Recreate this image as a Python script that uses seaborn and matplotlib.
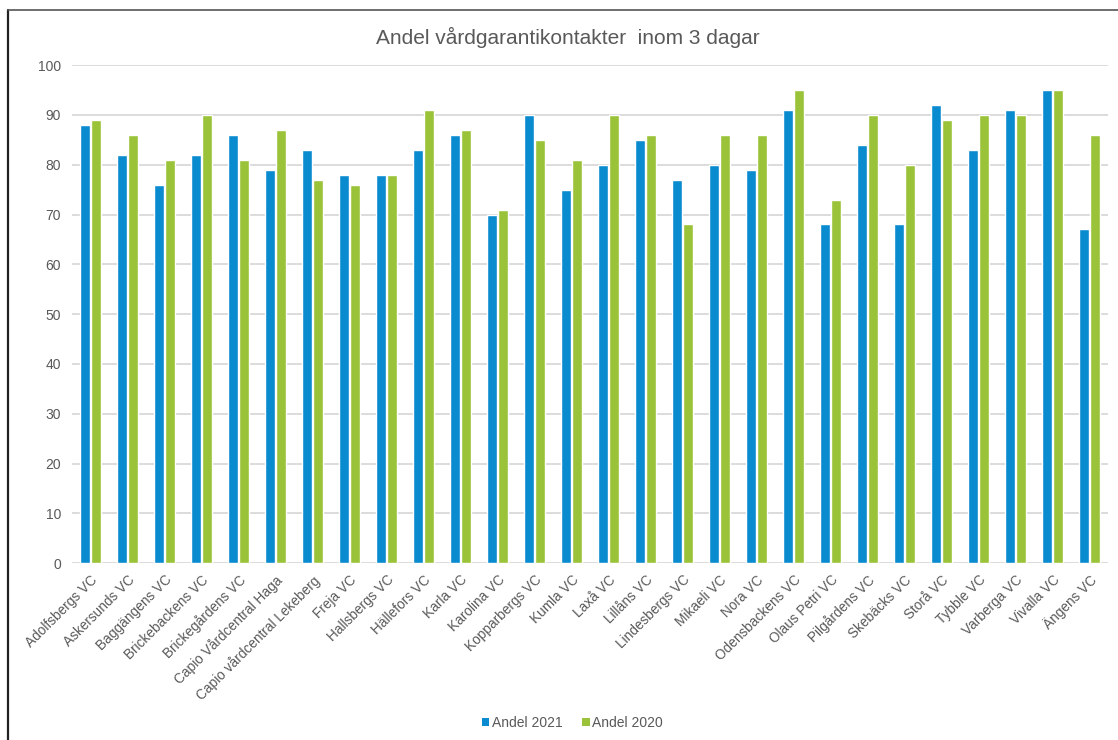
import matplotlib
matplotlib.use("Agg")
import matplotlib.pyplot as plt
from matplotlib.lines import Line2D
from matplotlib.patches import Patch
import seaborn as sns
import pandas as pd

categories = [
    "Adolfsbergs VC", "Askersunds VC", "Baggängens VC", "Brickebackens VC",
    "Brickegårdens VC", "Capio Vårdcentral Haga", "Capio vårdcentral Lekeberg",
    "Freja VC", "Hallsbergs VC", "Hällefors VC", "Karla VC", "Karolina VC",
    "Kopparbergs VC", "Kumla VC", "Laxå VC", "Lillåns VC", "Lindesbergs VC",
    "Mikaeli VC", "Nora VC", "Odensbackens VC", "Olaus Petri VC",
    "Pilgårdens VC", "Skebäcks VC", "Storå VC", "Tybble VC", "Varberga VC",
    "Vivalla VC", "Ängens VC",
]
andel_2021 = [88, 82, 76, 82, 86, 79, 83, 78, 78, 83, 86, 70, 90, 75, 80, 85,
              77, 80, 79, 91, 68, 84, 68, 92, 83, 91, 95, 67]
andel_2020 = [89, 86, 81, 90, 81, 87, 77, 76, 78, 91, 87, 71, 85, 81, 90, 86,
              68, 86, 86, 95, 73, 90, 80, 89, 90, 90, 95, 86]
series_names = ["Andel 2021", "Andel 2020"]
title = "Andel vårdgarantikontakter  inom 3 dagar"

df = pd.DataFrame({
    "Vårdcentral": categories * 2,
    "Andel": andel_2021 + andel_2020,
    "Serie": [series_names[0]] * len(categories) + [series_names[1]] * len(categories),
})

sns.set_theme(style="white")
plt.rcParams["font.family"] = ["Liberation Sans", "DejaVu Sans"]

text_grey = "#595959"
colors = {series_names[0]: "#0a8bd0", series_names[1]: "#9bc33a"}

fig = plt.figure(figsize=(11.18, 7.40), dpi=100)
ax = fig.add_axes([0.0644, 0.239, 0.9266, 0.673])

sns.barplot(data=df, x="Vårdcentral", y="Andel", hue="Serie",
            palette=colors, width=0.58, gap=0.12, ax=ax,
            legend=False, saturation=1)

ax.set_ylim(0, 100)
ax.set_yticks(range(0, 101, 10))
ax.set_xlim(-0.5, len(categories) - 0.5)
ax.yaxis.grid(True, color="#dcdcdc", linewidth=1.4)
ax.set_axisbelow(True)
for side in ["left", "right", "top", "bottom"]:
    ax.spines[side].set_visible(False)
ax.axhline(0, color="#dcdcdc", linewidth=1.4, zorder=0)

ax.set_xlabel("")
ax.set_ylabel("")
ax.tick_params(axis="y", length=0, pad=8, labelsize=10, labelcolor=text_grey)
ax.tick_params(axis="x", length=0, pad=7, labelsize=9.8, labelcolor=text_grey)
for lbl in ax.get_xticklabels():
    lbl.set_rotation(45)
    lbl.set_ha("right")
    lbl.set_rotation_mode("anchor")

fig.text(0.508, 0.950, title, ha="center", va="center",
         fontsize=15, color=text_grey)

handles = [Patch(facecolor=colors[s], edgecolor="none") for s in series_names]
fig.legend(handles, series_names, loc="center", bbox_to_anchor=(0.512, 0.023),
           ncol=2, frameon=False, fontsize=10, labelcolor=text_grey,
           handlelength=0.55, handleheight=0.55, handletextpad=0.2,
           columnspacing=1.4)

# frame lines along the top and left edge
fig.add_artist(Line2D([8 / 1118, 8 / 1118], [0, 1 - 10 / 740],
                      transform=fig.transFigure, color="#222222", linewidth=1.6))
fig.add_artist(Line2D([8 / 1118, 1], [1 - 10 / 740, 1 - 10 / 740],
                      transform=fig.transFigure, color="#555555", linewidth=1.2))

fig.savefig("out.png", dpi=100, facecolor="white")
